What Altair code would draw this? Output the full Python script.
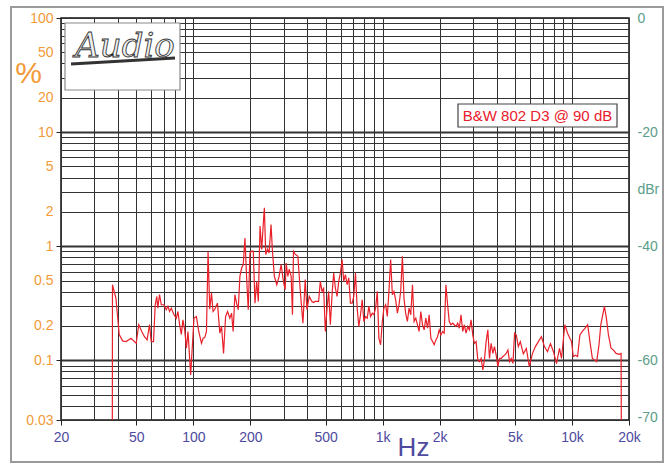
import altair as alt
import pandas as pd

# ---------------- data ----------------
freq = [
    37.3, 37.4, 39.0, 40.6, 42.3, 44.1, 46.9, 49.9, 51.5, 53.4,
    55.2, 57.0, 58.7, 59.9, 61.6, 62.9, 64.1, 64.9, 66.3, 67.7,
    69.9, 71.9, 73.4, 74.9, 76.5, 78.9, 81.3, 82.9, 84.6, 86.4,
    88.1, 90.0, 91.9, 93.7, 96.8, 98.4, 100.8, 103.8, 106.8, 110.4,
    112.6, 114.9, 117.3, 119.6, 122.1, 124.7, 127.1, 129.8, 134.1, 138.0,
    140.9, 144.4, 148.0, 151.6, 155.9, 159.2, 162.3, 165.7, 169.2, 172.6,
    176.2, 179.9, 183.5, 187.3, 191.2, 195.0, 199.1, 203.3, 207.3, 211.6,
    216.1, 220.4, 225.0, 229.7, 234.3, 237.2, 241.2, 246.6, 251.2, 257.3,
    261.4, 267.9, 275.9, 283.8, 290.8, 299.1, 305.4, 309.2, 315.6, 320.7,
    328.6, 333.9, 338.0, 345.0, 356.6, 366.8, 379.1, 389.9, 398.1, 409.5,
    417.0, 423.2, 431.6, 440.6, 458.8, 468.4, 478.2, 487.7, 497.9, 508.4,
    518.4, 529.3, 540.4, 551.1, 562.6, 574.5, 585.8, 598.1, 610.7, 622.7,
    635.8, 649.1, 662.0, 675.8, 690.0, 703.6, 718.4, 733.4, 748.0, 763.7,
    779.7, 795.2, 811.8, 828.8, 845.3, 863.0, 881.1, 898.6, 917.4, 936.6,
    955.2, 975.2, 995.7, 1015, 1037, 1058, 1079, 1102, 1125, 1147,
    1171, 1196, 1220, 1245, 1271, 1296, 1323, 1351, 1378, 1407,
    1437, 1465, 1496, 1527, 1557, 1590, 1623, 1656, 1690, 1726,
    1760, 1797, 1835, 1871, 1910, 1950, 1989, 2030, 2073, 2114,
    2158, 2203, 2247, 2294, 2342, 2389, 2439, 2490, 2539, 2593,
    2647, 2700, 2756, 2814, 2870, 2930, 2991, 3051, 3115, 3180,
    3243, 3311, 3381, 3447, 3520, 3593, 3665, 3741, 3820, 3895,
    3977, 4060, 4141, 4227, 4316, 4401, 4493, 4588, 4678, 4777,
    4877, 4974, 5078, 5204, 5333, 5532, 5738, 5952, 6175, 6406,
    6645, 6893, 7151, 7418, 7695, 7982, 8280, 8589, 8801, 9164,
    9471, 9741, 9946, 10155, 10444, 10703, 11008, 11336, 11702, 12094,
    12439, 12809, 13125, 13500, 13886, 14194, 14474, 14832, 15190, 15575,
    16077, 16558, 17093, 17732, 18167, 18250,
]
pct = [
    0.01, 0.46, 0.35, 0.168, 0.148, 0.146, 0.156, 0.141, 0.205, 0.179,
    0.161, 0.151, 0.206, 0.146, 0.146, 0.307, 0.363, 0.287, 0.376, 0.307,
    0.307, 0.278, 0.297, 0.268, 0.287, 0.252, 0.234, 0.268, 0.206, 0.169,
    0.226, 0.185, 0.128, 0.179, 0.0743, 0.119, 0.234, 0.242, 0.179, 0.141,
    0.156, 0.158, 0.179, 0.90, 0.280, 0.388, 0.268, 0.280, 0.317, 0.173,
    0.198, 0.115, 0.242, 0.268, 0.234, 0.259, 0.179, 0.376, 0.317, 0.278,
    0.545, 0.644, 0.690, 1.18, 0.527, 0.278, 0.873, 0.904, 0.904, 0.317,
    0.492, 0.328, 1.50, 0.935, 1.60, 2.17, 0.845, 0.941, 0.873, 1.55,
    0.935, 0.545, 0.46, 0.545, 0.690, 0.492, 0.416, 0.713, 0.545, 0.628,
    0.545, 0.251, 0.904, 0.851, 0.817, 0.416, 0.212, 0.510, 0.278, 0.363,
    0.342, 0.328, 0.321, 0.328, 0.328, 0.492, 0.402, 0.427, 0.179, 0.287,
    0.402, 0.205, 0.378, 0.582, 0.430, 0.363, 0.492, 0.582, 0.764, 0.492,
    0.564, 0.46, 0.527, 0.317, 0.317, 0.363, 0.582, 0.287, 0.198, 0.251,
    0.339, 0.219, 0.242, 0.234, 0.297, 0.242, 0.259, 0.251, 0.287, 0.402,
    0.156, 0.137, 0.219, 0.287, 0.307, 0.242, 0.402, 0.764, 0.376, 0.402,
    0.339, 0.259, 0.307, 0.402, 0.817, 0.351, 0.257, 0.219, 0.287, 0.251,
    0.46, 0.219, 0.234, 0.205, 0.179, 0.268, 0.205, 0.185, 0.234, 0.191,
    0.251, 0.156, 0.146, 0.137, 0.151, 0.161, 0.185, 0.167, 0.179, 0.173,
    0.46, 0.307, 0.219, 0.205, 0.212, 0.205, 0.198, 0.212, 0.191, 0.251,
    0.179, 0.205, 0.173, 0.198, 0.185, 0.226, 0.167, 0.141, 0.146, 0.101,
    0.0974, 0.104, 0.0823, 0.101, 0.146, 0.185, 0.104, 0.141, 0.115, 0.132,
    0.111, 0.088, 0.104, 0.104, 0.108, 0.111, 0.115, 0.123, 0.0974, 0.104,
    0.094, 0.173, 0.167, 0.132, 0.146, 0.114, 0.127, 0.088, 0.114, 0.132,
    0.146, 0.161, 0.132, 0.119, 0.140, 0.119, 0.0935, 0.127, 0.104, 0.205,
    0.173, 0.156, 0.146, 0.108, 0.111, 0.108, 0.167, 0.179, 0.191, 0.205,
    0.146, 0.104, 0.101, 0.0974, 0.137, 0.205, 0.242, 0.297, 0.234, 0.167,
    0.128, 0.123, 0.115, 0.113, 0.115, 0.01,
]

x_grid = [20, 30, 40, 50, 60, 70, 80, 90,
          100, 200, 300, 400, 500, 600, 700, 800, 900,
          1000, 2000, 3000, 4000, 5000, 6000, 7000, 8000, 9000,
          10000, 20000]
x_labels = [20, 50, 100, 200, 500, 1000, 2000, 5000, 10000, 20000]

y_grid = [0.03, 0.04, 0.05, 0.06, 0.07, 0.08, 0.09,
          0.1, 0.2, 0.3, 0.4, 0.5, 0.6, 0.7, 0.8, 0.9,
          1, 2, 3, 4, 5, 6, 7, 8, 9,
          10, 20, 30, 40, 50, 60, 70, 80, 90, 100]
y_labels = [0.03, 0.1, 0.2, 0.5, 1, 2, 5, 10, 20, 50, 100]
y_ticks = [0.03, 0.1, 1, 10, 100]
y_major = [0.1, 1, 10]

dbr_domain = [-70.46, 0]
dbr_values = [0, -20, -30, -40, -60, -70]

legend_text = ["B&W 802 D3 @ 90 dB"]
logo_text = ["Audio"]

# ---------------- styling ----------------
FONT = "Liberation Sans"
ORANGE = "#F29A38"
PURPLE = "#4E4A9E"
TEAL = "#5B9E89"
RED = "#E8202A"

df = pd.DataFrame({"f": freq, "p": pct})
one = pd.DataFrame({"k": [0]})


def lst(v):
    return "[" + ",".join(str(a) for a in v) + "]"


x_axis = alt.Axis(
    values=x_grid, grid=True, gridColor="#333333", gridWidth=1, domain=False,
    ticks=True, tickSize=5, tickColor="#222222",
    tickOpacity={"condition": {"test": f"indexof({lst(x_labels)}, datum.value) >= 0", "value": 1}, "value": 0},
    labelExpr=f"indexof({lst(x_labels)}, datum.value) >= 0 ? (datum.value >= 1000 ? (datum.value/1000) + 'k' : '' + datum.value) : ''",
    labelColor=PURPLE, labelFont=FONT, labelFontSize=14, labelPadding=5,
    labelFlush=False, labelOverlap=False,
    title="Hz", titleColor=PURPLE, titleFont=FONT, titleFontSize=26, titleFontWeight="normal",
    titleX=352, titleY=35, titleAlign="center", titleBaseline="alphabetic",
)

y_axis = alt.Axis(
    values=y_grid, grid=True, gridColor="#333333",
    gridWidth={"condition": {"test": f"indexof({lst(y_major)}, datum.value) >= 0", "value": 2}, "value": 1},
    domain=False, ticks=True, tickSize=5, tickColor="#222222",
    tickOpacity={"condition": {"test": f"indexof({lst(y_ticks)}, datum.value) >= 0", "value": 1}, "value": 0},
    labelExpr=f"indexof({lst(y_labels)}, datum.value) >= 0 ? '' + datum.value : ''",
    labelColor=ORANGE, labelFont=FONT, labelFontSize=14, labelPadding=3,
    labelOverlap=False, labelFlush=False,
    title="%", titleColor=ORANGE, titleFont=FONT, titleFontSize=30, titleFontWeight="normal",
    titleAngle=0, titleX=-33, titleY=55, titleAlign="center", titleBaseline="middle",
)

line = alt.Chart(df).mark_line(color=RED, strokeWidth=1.2, clip=True).encode(
    x=alt.X("f:Q", scale=alt.Scale(type="log", domain=[20, 20000]), axis=x_axis),
    y=alt.Y("p:Q", scale=alt.Scale(type="log", domain=[0.03, 100]), axis=y_axis),
)

dbr_df = pd.DataFrame({"db": dbr_domain})
right_axis = alt.Chart(dbr_df).mark_point(opacity=0).encode(
    y=alt.Y("db:Q", scale=alt.Scale(domain=dbr_domain, nice=False, zero=False),
            axis=alt.Axis(orient="right", values=dbr_values, grid=False, ticks=False, domain=False,
                          labelExpr="datum.value == -30 ? 'dBr' : '' + datum.value",
                          labelColor=TEAL, labelFont=FONT, labelFontSize=14, labelPadding=8,
                          labelOverlap=False, labelFlush=False, title=None)),
)

# outer frame
frame = alt.Chart(one).mark_rect(fillOpacity=0, stroke="#9a9a9a", strokeWidth=2, clip=False).encode(
    x=alt.value(-50), x2=alt.value(602), y=alt.value(-11), y2=alt.value(444)
)

# logo box
logo_box = alt.Chart(one).mark_rect(fill="white", stroke="#8a8a8a", strokeWidth=1.2).encode(
    x=alt.value(4), x2=alt.value(119), y=alt.value(5), y2=alt.value(72)
)
logo_txt = alt.Chart(pd.DataFrame({"t": logo_text})).mark_text(
    font="DejaVu Serif", fontStyle="italic", fontSize=34, fill="#f0f0f0",
    stroke="#333333", strokeWidth=0.9, align="center", baseline="middle"
).encode(x=alt.value(64), y=alt.value(29), text="t:N")
logo_bar = alt.Chart(one).mark_rule(color="#333333", strokeWidth=3).encode(
    x=alt.value(10), x2=alt.value(114), y=alt.value(46), y2=alt.value(40)
)

# legend box
leg_box = alt.Chart(one).mark_rect(fill="white", stroke="#444444", strokeWidth=1.2).encode(
    x=alt.value(397), x2=alt.value(556), y=alt.value(86), y2=alt.value(109)
)
leg_txt = alt.Chart(pd.DataFrame({"t": legend_text})).mark_text(
    font=FONT, fontSize=15, color=RED, align="center", baseline="middle"
).encode(x=alt.value(476.5), y=alt.value(98), text="t:N")

chart = alt.layer(
    line, right_axis, frame, logo_box, logo_txt, logo_bar, leg_box, leg_txt
).resolve_scale(y="independent").properties(
    width=568, height=402,
    padding={"left": 61, "top": 18, "right": 40, "bottom": 44},
    autosize="none", background="white",
).configure_view(stroke="#111111", strokeWidth=1.5)

chart.save("out.html", embed_options={"renderer": "svg", "actions": False})
